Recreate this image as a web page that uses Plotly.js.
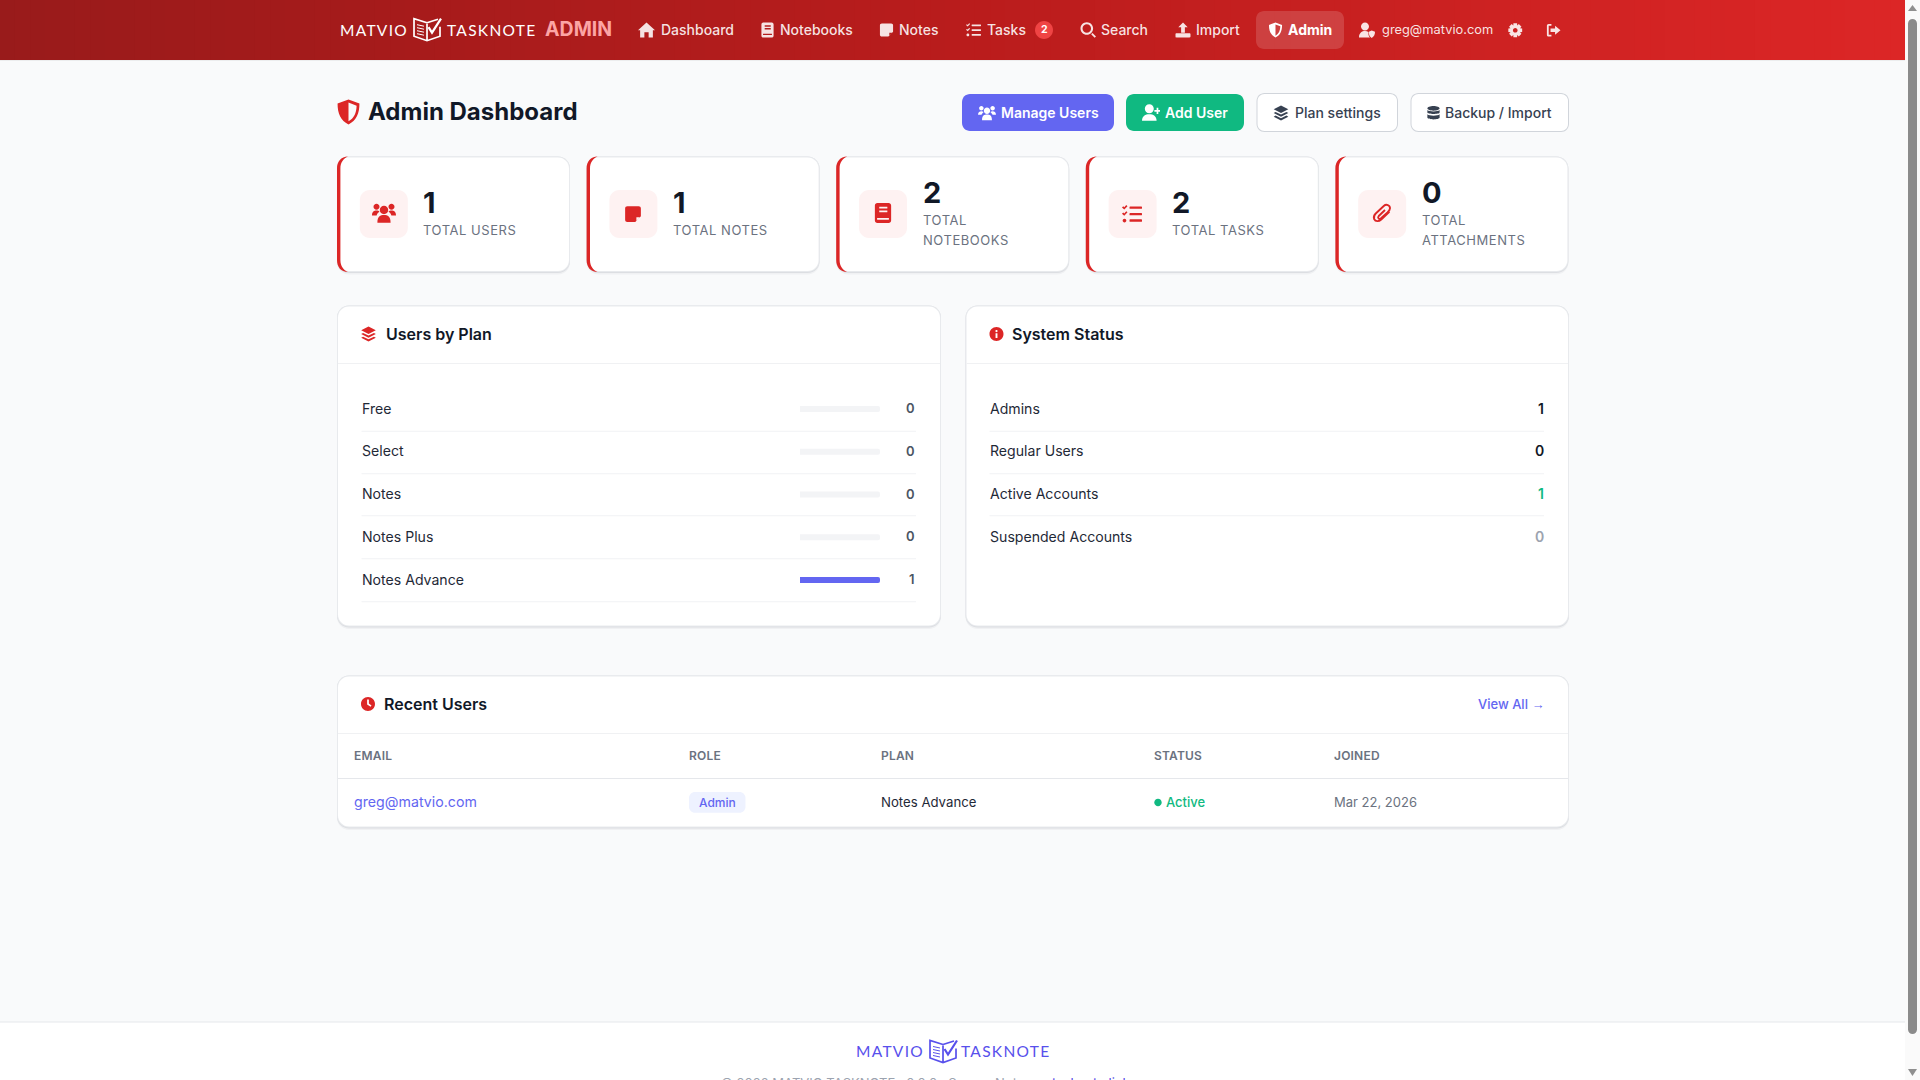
<!DOCTYPE html>
<html><head><meta charset="utf-8">
<script src="https://cdn.plot.ly/plotly-3.0.1.min.js"></script>
<style>html,body{margin:0;padding:0;background:#f9fafb;overflow:hidden}#chart{width:1920px;height:1080px}</style>
</head><body><div id="chart"></div>
<script>
// ---------- data ----------
const navLabels = ['Dashboard','Notebooks','Notes','Tasks','Search','Import','Admin'];
const tasksBadge = '2';
const userEmail = 'greg@matvio.com';
const pageTitle = 'Admin Dashboard';
const buttonLabels = ['Manage Users','Add User','Plan settings','Backup / Import'];
const statValues = [1,1,2,2,0];
const statLabels = [['TOTAL USERS'],['TOTAL NOTES'],['TOTAL','NOTEBOOKS'],['TOTAL TASKS'],['TOTAL','ATTACHMENTS']];
const planNames = ['Free','Select','Notes','Notes Plus','Notes Advance'];
const planValues = [0,0,0,0,1];
const planMax = [1,1,1,1,1];
const statusLabels = ['Admins','Regular Users','Active Accounts','Suspended Accounts'];
const statusValues = [1,0,1,0];
const tableHeaders = ['EMAIL','ROLE','PLAN','STATUS','JOINED'];
const recentRow = ['greg@matvio.com','Admin','Notes Advance','Active','Mar 22, 2026'];

// ---------- helpers ----------
const W=1920,H=1080,FONT='Inter, sans-serif';
const shapes=[],annotations=[],spacing={};
const X=x=>(x/W).toFixed(5),Y=y=>(1-y/H).toFixed(5);
const conv=d=>d.replace(/(-?\d+\.?\d*)\s+(-?\d+\.?\d*)/g,(m,a,b)=>X(+a)+' '+Y(+b));
const n=v=>(+v).toFixed(3);
function rr(x,y,w,h,r){const k=r*0.4477;return `M${n(x+r)} ${n(y)} L${n(x+w-r)} ${n(y)} C${n(x+w-k)} ${n(y)} ${n(x+w)} ${n(y+k)} ${n(x+w)} ${n(y+r)} L${n(x+w)} ${n(y+h-r)} C${n(x+w)} ${n(y+h-k)} ${n(x+w-k)} ${n(y+h)} ${n(x+w-r)} ${n(y+h)} L${n(x+r)} ${n(y+h)} C${n(x+k)} ${n(y+h)} ${n(x)} ${n(y+h-k)} ${n(x)} ${n(y+h-r)} L${n(x)} ${n(y+r)} C${n(x)} ${n(y+k)} ${n(x+k)} ${n(y)} ${n(x+r)} ${n(y)} Z `;}
function el(cx,cy,a,b){const k=0.5523;return `M${n(cx-a)} ${n(cy)} C${n(cx-a)} ${n(cy-b*k)} ${n(cx-a*k)} ${n(cy-b)} ${n(cx)} ${n(cy-b)} C${n(cx+a*k)} ${n(cy-b)} ${n(cx+a)} ${n(cy-b*k)} ${n(cx+a)} ${n(cy)} C${n(cx+a)} ${n(cy+b*k)} ${n(cx+a*k)} ${n(cy+b)} ${n(cx)} ${n(cy+b)} C${n(cx-a*k)} ${n(cy+b)} ${n(cx-a)} ${n(cy+b*k)} ${n(cx-a)} ${n(cy)} Z `;}
const ci=(cx,cy,r)=>el(cx,cy,r,r);
function poly(...p){let s='';for(let i=0;i<p.length;i+=2)s+=(i?'L':'M')+n(p[i])+' '+n(p[i+1])+' ';return s+'Z ';}
function fill(d,color){shapes.push({type:'path',xref:'paper',yref:'paper',path:conv(d),fillcolor:color,fillrule:'evenodd',line:{width:0},layer:'below'});}
function stroke(d,color,w){shapes.push({type:'path',xref:'paper',yref:'paper',path:conv(d),fillcolor:'rgba(0,0,0,0)',line:{color:color,width:w},layer:'below'});}
function box(x0,y0,x1,y1,color){fill(poly(x0,y0,x1,y0,x1,y1,x0,y1),color);}
function T(x,y,text,size,color,weight,o){o=o||{};const a=o.anchor||'left';
  if(o.sp)spacing[annotations.length]=o.sp;
  annotations.push({xref:'paper',yref:'paper',x:x/W,y:1-y/H,text:text,showarrow:false,xanchor:a,yanchor:'middle',align:a,borderpad:0,borderwidth:0,
    font:{family:o.family||FONT,size:size,color:color,weight:weight||400}});}
function tr(d,x,y,s){const f=s/16;return d.replace(/(-?\d+\.?\d*)\s+(-?\d+\.?\d*)/g,(m,a,b)=>n(x+a*f)+' '+n(y+b*f));}
function gear(){let s='';const N=8;for(let i=0;i<N;i++){const t=i*2*Math.PI/N,w=0.26;const p=(r,a)=>`${n(8+r*Math.cos(a))} ${n(8+r*Math.sin(a))}`;
  s+=(i?'L':'M')+p(5.6,t-0.39)+' L'+p(7.9,t-w)+' L'+p(7.9,t+w)+' L'+p(5.6,t+0.39)+' ';}return s+'Z '+ci(8,8,2.6);}
function chk(x,y){return poly(x,y+1.6,x+1,y+.6,x+1.8,y+1.4,x+3.4,y-.4,x+4.4,y+.5,x+1.8,y+3.2);}
const ICONS={
 home:poly(8,1,16,8.2,14,8.2,14,15,10,15,10,10,6,10,6,15,2,15,2,8.2,0,8.2),
 book:rr(1.5,0,13,16,2)+rr(5,3,6.5,1.5,.3)+rr(5,6,6.5,1.5,.3)+rr(3.2,12,9.6,1.4,.4),
 note:'M3 1 L13 1 C14.2 1 15 1.8 15 3 L15 10 L10 15 L3 15 C1.8 15 1 14.2 1 13 L1 3 C1 1.8 1.8 1 3 1 Z M11 11 L14 11 L11 14 Z ',
 tasks:chk(0,1.2)+chk(0,6.2)+ci(2,13.3,1.5)+rr(6,2,10,1.9,.5)+rr(6,7.1,10,1.9,.5)+rr(6,12.3,10,1.9,.5),
 search:ci(6.5,6.5,6.5)+ci(6.5,6.5,4.4)+poly(11,12.4,12.4,11,16,14.6,14.6,16),
 upload:poly(8,0,13,5,10,5,10,11,6,11,6,5,3,5)+rr(0,11.6,16,4.4,1),
 shield:'M8 0 L15 2.6 C15 9 13 13.5 8 16 C3 13.5 1 9 1 2.6 Z M8 2 L13.2 4 C13 8.8 11.5 12 8 14 Z ',
 userShield:ci(6,4,4)+'M0 15 C0 10.5 3 8.6 6 8.6 C7.4 8.6 8.4 8.9 9.4 9.4 L9.4 11 C9.4 12.8 10 14 11 15 Z M12.7 8 L16 9.2 C16 12 15 14.2 12.7 15.4 C10.4 14.2 9.8 12 9.8 9.2 Z ',
 gear:gear(),
 logout:'M6 1 L3 1 C1.5 1 1 2 1 3 L1 13 C1 14 1.5 15 3 15 L6 15 L6 13 L3 13 L3 3 L6 3 Z '+poly(10,3,16,8,10,13,10,10,5,10,5,6,10,6),
 users:ci(8,6,2.8)+ci(3,3.8,2)+ci(13,3.8,2)+'M3.6 14.5 C3.6 10.2 5.5 9.4 8 9.4 C10.5 9.4 12.4 10.2 12.4 14.5 Z M0 9.6 C0 7.2 1.4 6.4 3 6.4 C3.9 6.4 4.5 6.6 5 7 C4 7.8 3.4 8.6 3.1 9.6 Z M16 9.6 C16 7.2 14.6 6.4 13 6.4 C12.1 6.4 11.5 6.6 11 7 C12 7.8 12.6 8.6 12.9 9.6 Z ',
 userPlus:ci(6.5,4.3,4)+'M0 15 C0 10.8 3 9.2 6.5 9.2 C10 9.2 13 10.8 13 15 Z '+poly(13,3.4,14.5,3.4,14.5,5.4,16,5.4,16,6.9,14.5,6.9,14.5,8.9,13,8.9,13,6.9,11,6.9,11,5.4,13,5.4),
 layers:poly(8,0,15.8,4,8,8,.2,4)+poly(2.2,6.8,8,9.7,13.8,6.8,15.8,8,8,12,.2,8)+poly(2.2,10.8,8,13.7,13.8,10.8,15.8,12,8,16,.2,12),
 db:el(8,2.7,7,2.7)+'M1 4.6 C3 6.8 13 6.8 15 4.6 L15 7.4 C15 9.6 1 9.6 1 7.4 Z M1 9.4 C3 11.6 13 11.6 15 9.4 L15 13.2 C15 16 1 16 1 13.2 Z ',
 info:ci(8,8,8)+ci(8,4.6,1.3)+rr(6.9,7,2.2,5.6,.3),
 clock:ci(8,8,8)+poly(7,3,9,3,9,7.5,12,9.8,11,11.2,7,8.5)
};
const ic=(name,x,y,s,color)=>fill(tr(ICONS[name],x,y,s),color);
function logo(x,y,color){const s=(px,py)=>`${n(x+px)} ${n(y+py)}`;
  stroke(`M${s(14,6)} L${s(14,23)} M${s(14,5)} L${s(1,1)} L${s(1,18.5)} L${s(14,23)} L${s(27,18.5)} L${s(27,9)} M${s(14,5)} L${s(25,1.5)}`,color,1.7);
  stroke(`M${s(4,7)} L${s(11,8.5)} M${s(4,10)} L${s(11,11.5)} M${s(4,13)} L${s(11,14.5)} M${s(4,16)} L${s(11,17.5)}`,color,1);
  stroke(`M${s(15.5,9.5)} L${s(19,15)} L${s(28,1)}`,color,2.2);}
function shadow(x,y,w,h,r){fill(rr(x,y+1,w,h+1.5,r),'rgba(17,24,39,0.04)');fill(rr(x,y,w,h+1,r),'#dcdee2');fill(rr(x,y,w,h,r),'#e8eaed');}
function card(x,y,w,h,r){shadow(x,y,w,h,r);fill(rr(x+1,y+1,w-2,h-2,r-1),'#ffffff');}

// ---------- page ----------
box(0,0,W,H,'#f9fafb');
// header gradient
const stops=[[0x99,0x1b,0x1b],[0xb9,0x1c,0x1c],[0xdc,0x26,0x26]];
for(let i=0;i<127;i++){const u=i/126,seg=u<.5?0:1,v=u<.5?u*2:(u-.5)*2,c=stops[seg].map((a,j)=>Math.round(a+(stops[seg+1][j]-a)*v));
  box(i*15,0,(i+1)*15+1,60,`rgb(${c})`);}
box(0,60,1905,61,'rgba(0,0,0,0.05)');
// scrollbar
box(1905,0,1920,1080,'#fafafa');
fill(rr(1908,19,9,1015,4.5),'#8b8b8b');
fill(poly(1912.5,5,1917,11,1908,11),'#8f8f8f');
fill(poly(1908,1069,1917,1069,1912.5,1076),'#8f8f8f');
// nav
const navWhite='rgba(255,255,255,0.88)';
logo(413,17.7,'#ffffff');
spacing[annotations.length]=1.3;T(340,30,'MATVIO',15.5,'#ffffff',400,{family:'Lato, sans-serif'});
spacing[annotations.length]=1.3;T(446.5,30,'TASKNOTE',15.5,'#ffffff',400,{family:'Lato, sans-serif'});
T(545,29.5,'ADMIN',19.5,'#fca5a5',700);
fill(rr(1256,11,88,38,8),'rgba(255,255,255,0.15)');
const navX=[661,780,899,987,1101,1196,1288],navIcons=['home','book','note','tasks','search','upload','shield'],navIconX=[638,760,879,966,1080.5,1175.5,1268],navIconS=[17,15,15,15,15.5,15,15];
navLabels.forEach((l,i)=>{const act=l==='Admin';T(navX[i],29.4,l,14,act?'#ffffff':navWhite,act?700:550);ic(navIcons[i],navIconX[i],30-navIconS[i]/2,navIconS[i],act?'#ffffff':navWhite);});
fill(ci(1044,30,9),'#ef4444');T(1044,29.6,tasksBadge,10.5,'#ffffff',700,{anchor:'center'});
ic('userShield',1359,22.5,16,navWhite);
T(1382,29.5,userEmail,12.85,navWhite,400);
ic('gear',1508,23,14.5,navWhite);
ic('logout',1546,23,14.5,navWhite);
// title row
ic('shield',336,99.5,25,'#dc2626');
T(368.3,111.2,pageTitle,24,'#111827',700);
fill(rr(962,94,152,37,8),'#6366f1');
fill(rr(1126,94,118,37,8),'#10b981');
[[1256.5,141.5],[1410.5,158.5]].forEach(b=>{fill(rr(b[0],93,b[1],39,8),'#d1d5db');fill(rr(b[0]+1,94,b[1]-2,37,7),'#ffffff');});
const btnX=[1001,1165,1295,1445],btnIcons=['users','userPlus','layers','db'],btnIconX=[978,1142,1273.5,1426.5],btnSize=[18,18,15,14],btnColor=['#ffffff','#ffffff','#374151','#374151'];
buttonLabels.forEach((l,i)=>{T(btnX[i],112.5,l,14,btnColor[i],i<2?600:500);ic(btnIcons[i],btnIconX[i],113-btnSize[i]/2,btnSize[i],btnColor[i]);});
// stat cards
const statIcons=[['users',372,201,24],['note',624,205,18],['book',873,203,20],['tasks',1122,204,20]];
statValues.forEach((v,i)=>{const x=337+i*249.6,w=233,y=156.5,h=115.5;
  card(x,y,w,h,12);
  fill(`M${n(x+11)} ${n(y)} C${n(x+4)} ${n(y)} ${n(x)} ${n(y+5)} ${n(x)} ${n(y+12)} L${n(x)} ${n(y+h-12)} C${n(x)} ${n(y+h-5)} ${n(x+4)} ${n(y+h)} ${n(x+11)} ${n(y+h)} C${n(x+6.5)} ${n(y+h-2)} ${n(x+3.4)} ${n(y+h-6)} ${n(x+3.4)} ${n(y+h-12)} L${n(x+3.4)} ${n(y+12)} C${n(x+3.4)} ${n(y+6)} ${n(x+6.5)} ${n(y+2)} ${n(x+11)} ${n(y)} Z`,'#dc2626');
  fill(rr(x+22.8,190,48,48,10),'#fef2f2');
  const tx=x+86.4,two=statLabels[i].length>1;
  T(tx,two?192.7:202.5,String(v),29,'#111827',700);
  statLabels[i].forEach((s,j)=>T(tx,two?220.3+j*20:230.5,s,13,'#6b7280',400,{sp:0.55}));
});
statIcons.forEach(a=>ic(a[0],a[1],a[2],a[3],'#dc2626'));
stroke(tr('M13.5 7 L7 13.2 C5 15 2.4 15 1.3 12.8 C0.6 11 1.2 9.8 2.6 8.4 L9 2.4 C11 0.6 14 1.6 14 4.2 C14 5.6 13 6.6 12 7.6 L6.6 12.4 C5.2 13.4 3.8 11.8 5 10.4 L10 5.6',1372.5,203,20),'#dc2626',1.9);
// panels
card(337,305.5,604,321,12);
card(965.5,305.5,603.5,321,12);
box(338,363,940,364,'#f0f1f3');box(966.5,363,1568,364,'#f0f1f3');
ic('layers',361,326.5,15,'#dc2626');T(386,334,'Users by Plan',16,'#111827',600);
ic('info',989.5,327,14,'#dc2626');T(1012,334,'System Status',16,'#111827',600);
const rowY=[408.4,450.9,493.6,536.4,579.4],sepY=[430.7,473.3,515.3,558.3,601.3];
planNames.forEach((p,i)=>{T(361.5,rowY[i],p,14.1,'#1f2937',400);T(915.4,rowY[i],String(planValues[i]),13,'#4b5563',600,{anchor:'right'});box(361.5,sepY[i],916,sepY[i]+1,'#f1f2f4');});
statusLabels.forEach((p,i)=>{const col=['#111827','#111827','#10b981','#9ca3af'][i];
  T(989.5,rowY[i],p,14.1,'#1f2937',400);T(1543.5,rowY[i],String(statusValues[i]),14,col,600,{anchor:'right'});
  if(i<3)box(989.5,sepY[i],1544,sepY[i]+1,'#f1f2f4');});
// recent users
card(337,675.5,1232,152,12);
box(338,733,1568,734,'#f0f1f3');box(338,778,1568,779,'#e5e7eb');
ic('clock',361,697,14,'#dc2626');T(384,704,'Recent Users',16,'#111827',600);
T(1543.5,704,'View All <span style="font-family:Liberation Sans">→</span>',13,'#6366f1',500,{anchor:'right'});
const colX=[353.5,689,881,1154,1334.3];
tableHeaders.forEach((h,i)=>T(colX[i],755.5,h,12,'#6b7280',600,{sp:0.2}));
T(colX[0],802,recentRow[0],14.2,'#6366f1',400);
fill(rr(689,792,56.5,20.7,6),'#eef2ff');T(717.2,802.3,recentRow[1],12,'#6366f1',500,{anchor:'center'});
T(colX[2]-.5,802.3,recentRow[2],13.2,'#1f2937',400);
fill(ci(1158,802.5,3.7),'#10b981');T(1166,802.3,recentRow[3],13,'#10b981',500);
T(colX[4],802.3,recentRow[4],13,'#6b7280',400);
// footer
box(0,1022,1905,1080,'#ffffff');box(0,1021.5,1905,1022.5,'#e5e7eb');
logo(929,1039.5,'#5850ec');
spacing[annotations.length]=1.3;T(856,1050.5,'MATVIO',15.5,'#5850ec',400,{family:'Lato, sans-serif'});
spacing[annotations.length]=1.3;T(961.5,1050.5,'TASKNOTE',15.5,'#5850ec',400,{family:'Lato, sans-serif'});
T(721,1082.5,'© 2026 MATVIO TASKNOTE · 0.0.0 · Secure Notes',13,'#9ca3af',400);
T(1052,1082.5,'tasknote.link',13,'#4f46e5',400);

// ---------- traces: plan bars ----------
const track={type:'bar',orientation:'h',x:planMax,y:planNames,xaxis:'x',yaxis:'y',width:0.14,marker:{color:'#f3f4f6',cornerradius:3},hoverinfo:'skip',showlegend:false};
const usage={type:'bar',orientation:'h',x:planValues,y:planNames,xaxis:'x',yaxis:'y',width:0.14,marker:{color:'#6366f1',cornerradius:3},hoverinfo:'skip',showlegend:false};
const layout={width:W,height:H,margin:{l:0,r:0,t:0,b:0,pad:0},paper_bgcolor:'#f9fafb',plot_bgcolor:'rgba(0,0,0,0)',barmode:'overlay',showlegend:false,
  xaxis:{domain:[800/W,880/W],range:[0,1],visible:false,fixedrange:true},
  yaxis:{domain:[1-601.4/H,1-387.6/H],type:'category',categoryorder:'array',categoryarray:planNames,autorange:'reversed',visible:false,fixedrange:true},
  shapes:shapes,annotations:annotations,font:{family:FONT}};
Plotly.newPlot('chart',[track,usage],layout,{displayModeBar:false,staticPlot:true,responsive:false}).then(()=>{
  Object.keys(spacing).forEach(i=>{const t=document.querySelector('.annotation[data-index="'+i+'"] text');if(t)t.style.letterSpacing=spacing[i]+'px';});
});
</script></body></html>
